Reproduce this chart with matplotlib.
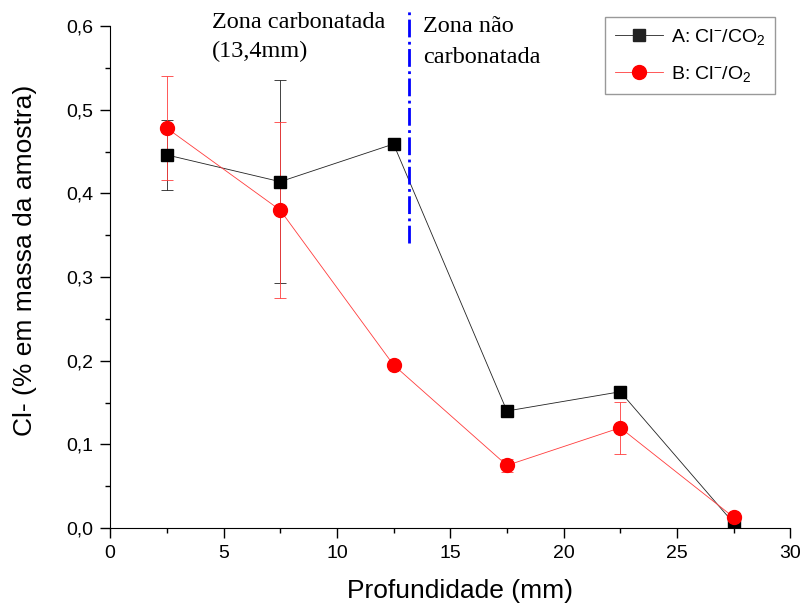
import matplotlib.pyplot as plt
from matplotlib.lines import Line2D
from matplotlib.ticker import MultipleLocator, FuncFormatter

plt.rcParams["font.family"] = ["Liberation Sans", "DejaVu Sans"]
plt.rcParams["mathtext.fontset"] = "custom"
plt.rcParams["mathtext.rm"] = "Liberation Sans"
plt.rcParams["mathtext.it"] = "Liberation Sans:italic"

# depth (mm)
depth = [2.5, 7.5, 12.5, 17.5, 22.5, 27.5]

# A: Cl-/CO2
cl_co2 = [0.446, 0.414, 0.459, 0.140, 0.163, 0.006]
cl_co2_err = [0.042, 0.121, 0, 0, 0, 0]

# B: Cl-/O2
cl_o2 = [0.478, 0.380, 0.195, 0.075, 0.120, 0.013]
cl_o2_err = [0.062, 0.105, 0, 0.008, 0.031, 0]

carb_depth = 13.2

fig = plt.figure(figsize=(8.04, 6.05), dpi=100)
ax = fig.add_axes([0.137, 0.127, 0.846, 0.830])

# lines + error bars
ax.errorbar(depth, cl_co2, yerr=cl_co2_err, color="#222222", lw=0.6, elinewidth=0.6,
            capsize=4, capthick=0.6, zorder=2)
ax.errorbar(depth, cl_o2, yerr=cl_o2_err, color="#ff3b3b", lw=0.6, elinewidth=0.6,
            capsize=4, capthick=0.6, zorder=2)
# markers
ax.plot(depth, cl_co2, ls="none", marker="s", ms=8.5, color="black", zorder=3)
ax.plot(depth, cl_o2, ls="none", marker="o", ms=10, color="red", zorder=4)

ax.plot([carb_depth, carb_depth], [0.341, 0.62], color="blue", lw=2, ls="-.",
        clip_on=False, zorder=5)

ax.text(4.5, 0.617, "Zona carbonatada\n(13,4mm)", family="Liberation Serif", fontsize=17.5,
        ha="left", va="top", linespacing=1.5)
ax.text(13.8, 0.612, "Zona não\ncarbonatada", family="Liberation Serif", fontsize=17.5,
        ha="left", va="top", linespacing=1.6)

ax.set_xlim(0, 30)
ax.set_ylim(0, 0.6)
ax.xaxis.set_major_locator(MultipleLocator(5))
ax.xaxis.set_minor_locator(MultipleLocator(2.5))
ax.yaxis.set_major_locator(MultipleLocator(0.1))
ax.yaxis.set_minor_locator(MultipleLocator(0.05))
ax.yaxis.set_major_formatter(FuncFormatter(lambda v, p: f"{v:.1f}".replace(".", ",")))
ax.tick_params(which="major", length=7.5, width=1, labelsize=14, pad=4.5)
ax.tick_params(which="minor", length=3.5, width=1)
ax.spines["top"].set_visible(False)
ax.spines["right"].set_visible(False)

ax.set_xlabel("Profundidade (mm)", fontsize=19, labelpad=12.5)
ax.set_ylabel("Cl- (% em massa da amostra)", fontsize=19, labelpad=21)
ax.xaxis.label.set_x(0.515)
ax.yaxis.label.set_y(0.534)

handles = [
    Line2D([], [], color="#222222", lw=0.6, marker="s", ms=8, label=r"A: Cl$^{-}$/CO$_2$"),
    Line2D([], [], color="#ff3b3b", lw=0.6, marker="o", ms=10, mfc="red", mec="red",
           label=r"B: Cl$^{-}$/O$_2$"),
]
leg = ax.legend(handles=handles, loc="upper right", bbox_to_anchor=(0.978, 1.018),
                borderaxespad=0, fontsize=14, fancybox=False, edgecolor="gray",
                handlelength=2.5, handletextpad=0.4, borderpad=0.5, labelspacing=0.9)
leg.get_frame().set_linewidth(1)

fig.savefig("out.png", dpi=100)
